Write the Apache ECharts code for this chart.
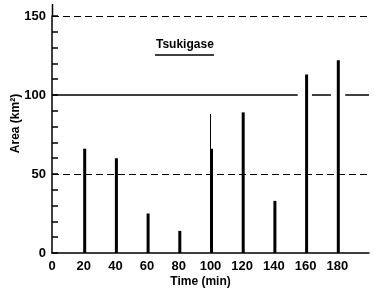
<!DOCTYPE html>
<html>
<head>
<meta charset="utf-8">
<script src="https://cdn.jsdelivr.net/npm/echarts@6/dist/echarts.min.js"></script>
<style>
  html, body { margin: 0; padding: 0; background: #fff; }
  #chart { width: 375px; height: 288px; }
</style>
</head>
<body>
<div id="chart"></div>
<script>
var myChart = echarts.init(document.getElementById('chart'));

// sampling times (min) and measured areas
var times = [20, 40, 60, 80, 100, 120, 140, 160, 180];
var areas = [66, 60, 25, 14, 66, 89, 33, 113, 122];
// thin upper trace at 100 min
var upperTimes = [100];
var upperAreas = [88];
// solid 100 line, broken around the tall bars
var refLine = [[0, 100], [155, 100], '-', [164, 100], [176, 100], '-', [185, 100], [200, 100]];
var dashedLevels = [50, 150];
var xTicks = [0, 20, 40, 60, 80, 100, 120, 140, 160, 180];
var yTicks = [0, 50, 100, 150];

var font = 'Liberation Sans';

option = {
    animation: false,
    grid: { left: 52, right: 6, top: 16, bottom: 35, outerBoundsMode: 'none', containLabel: false },
    title: {
        text: 'Tsukigase',
        left: 156,
        top: 39,
        padding: 0,
        textStyle: { fontFamily: font, fontWeight: 'bold', fontSize: 12, color: '#000' }
    },
    graphic: [
        { type: 'line', shape: { x1: 155, y1: 55, x2: 214, y2: 55 }, style: { stroke: '#000', lineWidth: 1.5 } },
        // axis line runs a little past the top tick
        { type: 'line', shape: { x1: 52.5, y1: 4, x2: 52.5, y2: 16 }, style: { stroke: '#000', lineWidth: 1.5 } }
    ],
    xAxis: {
        type: 'value',
        min: 0,
        max: 200,
        interval: 20,
        name: 'Time (min)',
        nameLocation: 'middle',
        nameGap: 23,
        nameMoveOverlap: false,
        nameTextStyle: { fontFamily: font, fontWeight: 'bold', fontSize: 12, color: '#000', padding: [0, 20, 0, 0] },
        axisLine: { lineStyle: { color: '#000', width: 1.5 } },
        axisTick: { show: false },
        splitLine: { show: false },
        axisLabel: {
            fontFamily: font, fontWeight: 'bold', fontSize: 13, color: '#000', margin: 7,
            formatter: function (v) { return xTicks.indexOf(v) >= 0 ? String(v) : ''; }
        }
    },
    yAxis: {
        type: 'value',
        min: 0,
        max: 150,
        interval: 10,
        name: 'Area (km²)',
        nameLocation: 'middle',
        nameGap: 30,
        nameRotate: 90,
        nameMoveOverlap: false,
        nameTextStyle: { fontFamily: font, fontWeight: 'bold', fontSize: 12, color: '#000', padding: [0, 0, 0, 22] },
        axisLine: { lineStyle: { color: '#000', width: 1.5 } },
        axisTick: { show: true, inside: true, length: 6, lineStyle: { color: '#000', width: 1.5 } },
        splitLine: { show: false },
        axisLabel: {
            fontFamily: font, fontWeight: 'bold', fontSize: 13, color: '#000', margin: 6,
            formatter: function (v) { return yTicks.indexOf(v) >= 0 ? String(v) : ''; }
        }
    },
    series: [
        {
            name: 'Area',
            type: 'bar',
            barWidth: 3,
            itemStyle: { color: '#000' },
            data: times.map(function (t, i) { return [t, areas[i]]; }),
            markLine: {
                silent: true,
                symbol: 'none',
                label: { show: false },
                lineStyle: { color: '#000', type: [7, 4], width: 1.2 },
                data: dashedLevels.map(function (v) { return { yAxis: v }; })
            },
            z: 3
        },
        {
            name: 'Upper',
            type: 'bar',
            barWidth: 1,
            barGap: '-100%',
            itemStyle: { color: '#000' },
            data: upperTimes.map(function (t, i) { return [t, upperAreas[i]]; }),
            z: 2
        },
        {
            name: 'Ref',
            type: 'line',
            symbol: 'none',
            connectNulls: false,
            lineStyle: { color: '#000', width: 1.5 },
            data: refLine,
            z: 1
        }
    ]
};
myChart.setOption(option);
</script>
</body>
</html>
